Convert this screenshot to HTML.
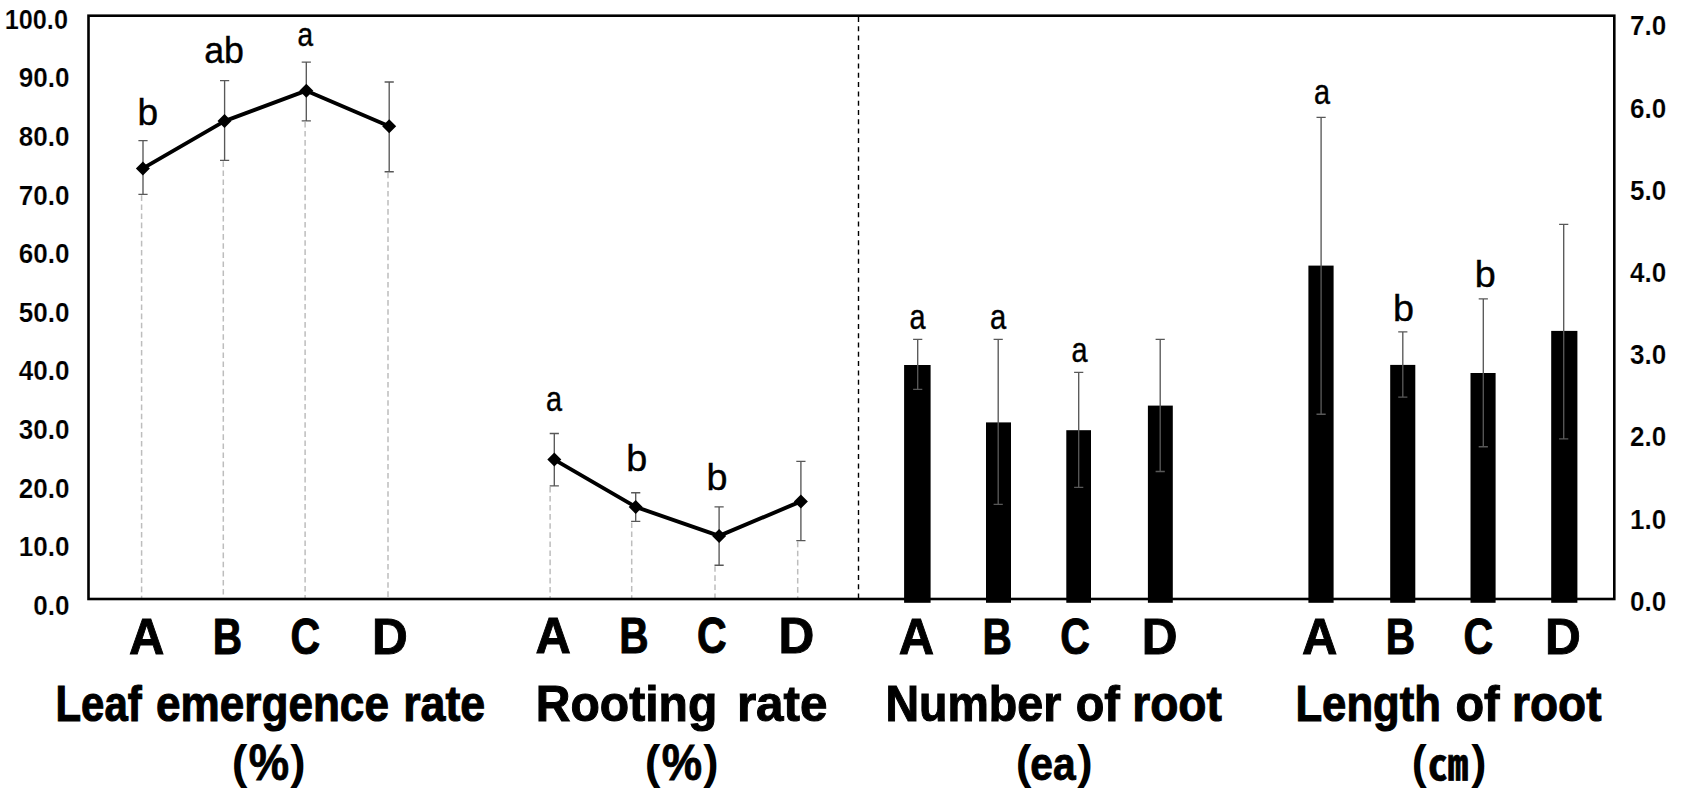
<!DOCTYPE html>
<html lang="en"><head><meta charset="utf-8"><title>Rooting chart</title>
<style>
html,body{margin:0;padding:0;background:#fff;}
body{width:1686px;height:792px;overflow:hidden;}
svg{display:block;}
svg text{font-family:"Liberation Sans", "Noto Sans CJK KR", sans-serif;fill:#000;}
</style></head><body>
<svg width="1686" height="792" viewBox="0 0 1686 792">
<rect width="1686" height="792" fill="#fff"/>
<g>
<line x1="141.6" y1="195.3" x2="141.6" y2="598.0" stroke="#bdbdbd" stroke-width="1.5" stroke-dasharray="5.6 3.5"/>
<line x1="223.3" y1="161.3" x2="223.3" y2="598.0" stroke="#bdbdbd" stroke-width="1.5" stroke-dasharray="5.6 3.5"/>
<line x1="305.1" y1="121.9" x2="305.1" y2="598.0" stroke="#bdbdbd" stroke-width="1.5" stroke-dasharray="5.6 3.5"/>
<line x1="388.0" y1="172.7" x2="388.0" y2="598.0" stroke="#bdbdbd" stroke-width="1.5" stroke-dasharray="5.6 3.5"/>
<line x1="550.1" y1="486.8" x2="550.1" y2="598.0" stroke="#bdbdbd" stroke-width="1.5" stroke-dasharray="5.6 3.5"/>
<line x1="631.7" y1="522.4" x2="631.7" y2="598.0" stroke="#bdbdbd" stroke-width="1.5" stroke-dasharray="5.6 3.5"/>
<line x1="715.0" y1="566.2" x2="715.0" y2="598.0" stroke="#bdbdbd" stroke-width="1.5" stroke-dasharray="5.6 3.5"/>
<line x1="797.7" y1="541.6" x2="797.7" y2="598.0" stroke="#bdbdbd" stroke-width="1.5" stroke-dasharray="5.6 3.5"/>
<line x1="858.5" y1="17" x2="858.5" y2="598.0" stroke="#000" stroke-width="1.4" stroke-dasharray="5 4.3"/>
<rect x="904.1" y="365.0" width="26.5" height="237.8" fill="#000"/>
<rect x="986.0" y="422.4" width="25.0" height="180.4" fill="#000"/>
<rect x="1066.3" y="430.2" width="24.7" height="172.6" fill="#000"/>
<rect x="1147.9" y="405.6" width="24.9" height="197.2" fill="#000"/>
<rect x="1308.4" y="265.6" width="25.2" height="337.2" fill="#000"/>
<rect x="1390.2" y="364.9" width="25.1" height="237.9" fill="#000"/>
<rect x="1470.5" y="373.0" width="25.1" height="229.8" fill="#000"/>
<rect x="1551.2" y="330.9" width="26.2" height="271.9" fill="#000"/>
<rect x="88.5" y="15.7" width="1525.8" height="583.3" fill="none" stroke="#000" stroke-width="2.6"/>
<path d="M143.0 140.6V194.3M138.4 140.6H147.6M138.4 194.3H147.6" stroke="#585858" stroke-width="1.35" fill="none"/>
<path d="M224.6 80.6V160.3M220.0 80.6H229.2M220.0 160.3H229.2" stroke="#585858" stroke-width="1.35" fill="none"/>
<path d="M306.3 62.1V120.9M301.7 62.1H310.90000000000003M301.7 120.9H310.90000000000003" stroke="#585858" stroke-width="1.35" fill="none"/>
<path d="M389.2 82.0V171.7M384.59999999999997 82.0H393.8M384.59999999999997 171.7H393.8" stroke="#585858" stroke-width="1.35" fill="none"/>
<path d="M554.3 433.5V485.8M549.6999999999999 433.5H558.9M549.6999999999999 485.8H558.9" stroke="#585858" stroke-width="1.35" fill="none"/>
<path d="M635.7 492.7V521.4M631.1 492.7H640.3000000000001M631.1 521.4H640.3000000000001" stroke="#585858" stroke-width="1.35" fill="none"/>
<path d="M719.1 506.9V565.2M714.5 506.9H723.7M714.5 565.2H723.7" stroke="#585858" stroke-width="1.35" fill="none"/>
<path d="M800.9 461.3V540.6M796.3 461.3H805.5M796.3 540.6H805.5" stroke="#585858" stroke-width="1.35" fill="none"/>
<path d="M917.7 339.4V389.4M913.1 339.4H922.3000000000001M913.1 389.4H922.3000000000001" stroke="#585858" stroke-width="1.35" fill="none"/>
<path d="M998.2 339.4V504.3M993.6 339.4H1002.8000000000001M993.6 504.3H1002.8000000000001" stroke="#585858" stroke-width="1.35" fill="none"/>
<path d="M1078.7 372.4V487.4M1074.1000000000001 372.4H1083.3M1074.1000000000001 487.4H1083.3" stroke="#585858" stroke-width="1.35" fill="none"/>
<path d="M1160.2 339.4V471.5M1155.6000000000001 339.4H1164.8M1155.6000000000001 471.5H1164.8" stroke="#585858" stroke-width="1.35" fill="none"/>
<path d="M1321.1 117.3V414.2M1316.5 117.3H1325.6999999999998M1316.5 414.2H1325.6999999999998" stroke="#585858" stroke-width="1.35" fill="none"/>
<path d="M1402.8 331.8V397.1M1398.2 331.8H1407.3999999999999M1398.2 397.1H1407.3999999999999" stroke="#585858" stroke-width="1.35" fill="none"/>
<path d="M1483.3 298.9V446.7M1478.7 298.9H1487.8999999999999M1478.7 446.7H1487.8999999999999" stroke="#585858" stroke-width="1.35" fill="none"/>
<path d="M1563.7 224.3V438.9M1559.1000000000001 224.3H1568.3M1559.1000000000001 438.9H1568.3" stroke="#585858" stroke-width="1.35" fill="none"/>
<polyline points="142.9,168.4 224.5,121.1 306.3,90.7 389.2,126.2" fill="none" stroke="#000" stroke-width="3.9" stroke-linejoin="round"/>
<path d="M142.9 161.4L149.9 168.4L142.9 175.4L135.9 168.4Z" fill="#000"/>
<path d="M224.5 114.1L231.5 121.1L224.5 128.1L217.5 121.1Z" fill="#000"/>
<path d="M306.3 83.7L313.3 90.7L306.3 97.7L299.3 90.7Z" fill="#000"/>
<path d="M389.2 119.2L396.2 126.2L389.2 133.2L382.2 126.2Z" fill="#000"/>
<polyline points="554.3,459.6 635.7,506.9 719.1,535.9 800.9,501.4" fill="none" stroke="#000" stroke-width="3.9" stroke-linejoin="round"/>
<path d="M554.3 452.6L561.3 459.6L554.3 466.6L547.3 459.6Z" fill="#000"/>
<path d="M635.7 499.9L642.7 506.9L635.7 513.9L628.7 506.9Z" fill="#000"/>
<path d="M719.1 528.9L726.1 535.9L719.1 542.9L712.1 535.9Z" fill="#000"/>
<path d="M800.9 494.4L807.9 501.4L800.9 508.4L793.9 501.4Z" fill="#000"/>
</g>
<g>
<text transform="translate(4.66 28.93) scale(0.9406 1)" font-size="26.90" font-weight="bold" stroke="#fff" stroke-width="0.18" vector-effect="non-scaling-stroke">100.0</text>
<text transform="translate(18.77 87.47) scale(0.9754 1)" font-size="26.76" font-weight="bold" stroke="#fff" stroke-width="0.18" vector-effect="non-scaling-stroke">90.0</text>
<text transform="translate(18.77 146.06) scale(0.9754 1)" font-size="26.76" font-weight="bold" stroke="#fff" stroke-width="0.18" vector-effect="non-scaling-stroke">80.0</text>
<text transform="translate(18.77 204.65) scale(0.9754 1)" font-size="26.76" font-weight="bold" stroke="#fff" stroke-width="0.18" vector-effect="non-scaling-stroke">70.0</text>
<text transform="translate(18.77 263.24) scale(0.9754 1)" font-size="26.76" font-weight="bold" stroke="#fff" stroke-width="0.18" vector-effect="non-scaling-stroke">60.0</text>
<text transform="translate(18.77 321.83) scale(0.9754 1)" font-size="26.76" font-weight="bold" stroke="#fff" stroke-width="0.18" vector-effect="non-scaling-stroke">50.0</text>
<text transform="translate(18.77 380.42) scale(0.9754 1)" font-size="26.76" font-weight="bold" stroke="#fff" stroke-width="0.18" vector-effect="non-scaling-stroke">40.0</text>
<text transform="translate(18.77 439.01) scale(0.9754 1)" font-size="26.76" font-weight="bold" stroke="#fff" stroke-width="0.18" vector-effect="non-scaling-stroke">30.0</text>
<text transform="translate(18.77 497.60) scale(0.9754 1)" font-size="26.76" font-weight="bold" stroke="#fff" stroke-width="0.18" vector-effect="non-scaling-stroke">20.0</text>
<text transform="translate(18.77 556.19) scale(0.9754 1)" font-size="26.76" font-weight="bold" stroke="#fff" stroke-width="0.18" vector-effect="non-scaling-stroke">10.0</text>
<text transform="translate(33.26 614.78) scale(0.9754 1)" font-size="26.76" font-weight="bold" stroke="#fff" stroke-width="0.18" vector-effect="non-scaling-stroke">0.0</text>
<text transform="translate(1629.96 35.28) scale(0.9754 1)" font-size="26.76" font-weight="bold" stroke="#fff" stroke-width="0.18" vector-effect="non-scaling-stroke">7.0</text>
<text transform="translate(1629.96 117.52) scale(0.9754 1)" font-size="26.76" font-weight="bold" stroke="#fff" stroke-width="0.18" vector-effect="non-scaling-stroke">6.0</text>
<text transform="translate(1629.96 199.76) scale(0.9754 1)" font-size="26.76" font-weight="bold" stroke="#fff" stroke-width="0.18" vector-effect="non-scaling-stroke">5.0</text>
<text transform="translate(1629.96 282.00) scale(0.9754 1)" font-size="26.76" font-weight="bold" stroke="#fff" stroke-width="0.18" vector-effect="non-scaling-stroke">4.0</text>
<text transform="translate(1629.96 364.24) scale(0.9754 1)" font-size="26.76" font-weight="bold" stroke="#fff" stroke-width="0.18" vector-effect="non-scaling-stroke">3.0</text>
<text transform="translate(1629.96 446.48) scale(0.9754 1)" font-size="26.76" font-weight="bold" stroke="#fff" stroke-width="0.18" vector-effect="non-scaling-stroke">2.0</text>
<text transform="translate(1629.96 528.72) scale(0.9754 1)" font-size="26.76" font-weight="bold" stroke="#fff" stroke-width="0.18" vector-effect="non-scaling-stroke">1.0</text>
<text transform="translate(1629.96 610.96) scale(0.9754 1)" font-size="26.76" font-weight="bold" stroke="#fff" stroke-width="0.18" vector-effect="non-scaling-stroke">0.0</text>
<text transform="translate(129.03 653.55) scale(0.9651 1)" font-size="50.72" font-weight="bold" stroke="#000" stroke-width="0.9" vector-effect="non-scaling-stroke">A</text>
<text transform="translate(212.71 653.55) scale(0.8015 1)" font-size="50.72" font-weight="bold" stroke="#000" stroke-width="0.9" vector-effect="non-scaling-stroke">B</text>
<text transform="translate(290.41 653.55) scale(0.8096 1)" font-size="50.72" font-weight="bold" stroke="#000" stroke-width="0.9" vector-effect="non-scaling-stroke">C</text>
<text transform="translate(371.93 653.55) scale(0.9777 1)" font-size="50.72" font-weight="bold" stroke="#000" stroke-width="0.9" vector-effect="non-scaling-stroke">D</text>
<text transform="translate(535.53 653.25) scale(0.9651 1)" font-size="50.72" font-weight="bold" stroke="#000" stroke-width="0.9" vector-effect="non-scaling-stroke">A</text>
<text transform="translate(619.21 653.25) scale(0.8015 1)" font-size="50.72" font-weight="bold" stroke="#000" stroke-width="0.9" vector-effect="non-scaling-stroke">B</text>
<text transform="translate(696.91 653.25) scale(0.8096 1)" font-size="50.72" font-weight="bold" stroke="#000" stroke-width="0.9" vector-effect="non-scaling-stroke">C</text>
<text transform="translate(778.43 653.25) scale(0.9777 1)" font-size="50.72" font-weight="bold" stroke="#000" stroke-width="0.9" vector-effect="non-scaling-stroke">D</text>
<text transform="translate(898.83 653.95) scale(0.9651 1)" font-size="50.72" font-weight="bold" stroke="#000" stroke-width="0.9" vector-effect="non-scaling-stroke">A</text>
<text transform="translate(982.51 653.95) scale(0.8015 1)" font-size="50.72" font-weight="bold" stroke="#000" stroke-width="0.9" vector-effect="non-scaling-stroke">B</text>
<text transform="translate(1060.21 653.95) scale(0.8096 1)" font-size="50.72" font-weight="bold" stroke="#000" stroke-width="0.9" vector-effect="non-scaling-stroke">C</text>
<text transform="translate(1141.73 653.95) scale(0.9777 1)" font-size="50.72" font-weight="bold" stroke="#000" stroke-width="0.9" vector-effect="non-scaling-stroke">D</text>
<text transform="translate(1302.03 653.95) scale(0.9651 1)" font-size="50.72" font-weight="bold" stroke="#000" stroke-width="0.9" vector-effect="non-scaling-stroke">A</text>
<text transform="translate(1385.71 653.95) scale(0.8015 1)" font-size="50.72" font-weight="bold" stroke="#000" stroke-width="0.9" vector-effect="non-scaling-stroke">B</text>
<text transform="translate(1463.41 653.95) scale(0.8096 1)" font-size="50.72" font-weight="bold" stroke="#000" stroke-width="0.9" vector-effect="non-scaling-stroke">C</text>
<text transform="translate(1544.93 653.95) scale(0.9777 1)" font-size="50.72" font-weight="bold" stroke="#000" stroke-width="0.9" vector-effect="non-scaling-stroke">D</text>
<text transform="translate(55.48 720.60) scale(0.8449 1)" font-size="49.60" font-weight="bold" stroke="#000" stroke-width="1.0" vector-effect="non-scaling-stroke">Leaf</text>
<text transform="translate(156.04 720.60) scale(0.8893 1)" font-size="49.60" font-weight="bold" stroke="#000" stroke-width="1.0" vector-effect="non-scaling-stroke">emergence</text>
<text transform="translate(403.19 720.60) scale(0.9017 1)" font-size="49.60" font-weight="bold" stroke="#000" stroke-width="1.0" vector-effect="non-scaling-stroke">rate</text>
<text transform="translate(535.78 720.60) scale(0.9691 1)" font-size="49.60" font-weight="bold" stroke="#000" stroke-width="1.0" vector-effect="non-scaling-stroke">Rooting</text>
<text transform="translate(736.89 720.60) scale(0.9959 1)" font-size="49.60" font-weight="bold" stroke="#000" stroke-width="1.0" vector-effect="non-scaling-stroke">rate</text>
<text transform="translate(885.47 720.60) scale(0.9383 1)" font-size="49.60" font-weight="bold" stroke="#000" stroke-width="1.0" vector-effect="non-scaling-stroke">Number</text>
<text transform="translate(1075.73 720.60) scale(0.9446 1)" font-size="49.60" font-weight="bold" stroke="#000" stroke-width="1.0" vector-effect="non-scaling-stroke">of</text>
<text transform="translate(1132.20 720.60) scale(0.9308 1)" font-size="49.60" font-weight="bold" stroke="#000" stroke-width="1.0" vector-effect="non-scaling-stroke">root</text>
<text transform="translate(1295.46 720.60) scale(0.8801 1)" font-size="49.60" font-weight="bold" stroke="#000" stroke-width="1.0" vector-effect="non-scaling-stroke">Length</text>
<text transform="translate(1455.43 720.60) scale(0.9446 1)" font-size="49.60" font-weight="bold" stroke="#000" stroke-width="1.0" vector-effect="non-scaling-stroke">of</text>
<text transform="translate(1512.01 720.60) scale(0.9286 1)" font-size="49.60" font-weight="bold" stroke="#000" stroke-width="1.0" vector-effect="non-scaling-stroke">root</text>
<text transform="translate(231.64 778.35) scale(1.0156 1)" font-size="46.42" font-weight="bold">(</text>
<text transform="translate(248.77 779.70) scale(0.9084 1)" font-size="49.93" font-weight="bold" stroke="#000" stroke-width="0.8" vector-effect="non-scaling-stroke">%</text>
<text transform="translate(290.37 778.35) scale(0.9926 1)" font-size="46.42" font-weight="bold">)</text>
<text transform="translate(644.64 778.35) scale(1.0156 1)" font-size="46.42" font-weight="bold">(</text>
<text transform="translate(661.77 779.70) scale(0.9084 1)" font-size="49.93" font-weight="bold" stroke="#000" stroke-width="0.8" vector-effect="non-scaling-stroke">%</text>
<text transform="translate(703.37 778.35) scale(0.9926 1)" font-size="46.42" font-weight="bold">)</text>
<text transform="translate(1015.64 778.35) scale(1.0156 1)" font-size="46.42" font-weight="bold">(</text>
<text transform="translate(1030.37 779.84) scale(0.8927 1)" font-size="45.64" font-weight="bold" stroke="#000" stroke-width="0.8" vector-effect="non-scaling-stroke">ea</text>
<text transform="translate(1077.17 778.35) scale(1.0002 1)" font-size="46.42" font-weight="bold">)</text>
<text transform="translate(1411.75 778.35) scale(0.9695 1)" font-size="46.42" font-weight="bold">(</text>
<text transform="translate(1471.37 778.35) scale(0.9849 1)" font-size="46.42" font-weight="bold">)</text>
<text transform="translate(1428.05 779.51) scale(0.9365 1)" font-size="42.71" font-weight="bold" stroke="#000" stroke-width="0.7" vector-effect="non-scaling-stroke">㎝</text>
<text transform="translate(137.49 125.04) scale(1.0216 1)" font-size="36.33" font-weight="normal" stroke="#000" stroke-width="0.4" vector-effect="non-scaling-stroke">b</text>
<text transform="translate(204.19 63.34) scale(0.9931 1)" font-size="36.05" font-weight="normal" stroke="#000" stroke-width="0.4" vector-effect="non-scaling-stroke">ab</text>
<text transform="translate(297.44 45.57) scale(0.8381 1)" font-size="33.45" font-weight="normal" stroke="#000" stroke-width="0.4" vector-effect="non-scaling-stroke">a</text>
<text transform="translate(545.90 410.56) scale(0.8388 1)" font-size="34.36" font-weight="normal" stroke="#000" stroke-width="0.4" vector-effect="non-scaling-stroke">a</text>
<text transform="translate(626.24 470.63) scale(1.0322 1)" font-size="36.60" font-weight="normal" stroke="#000" stroke-width="0.4" vector-effect="non-scaling-stroke">b</text>
<text transform="translate(706.54 490.03) scale(1.0322 1)" font-size="36.60" font-weight="normal" stroke="#000" stroke-width="0.4" vector-effect="non-scaling-stroke">b</text>
<text transform="translate(909.40 329.25) scale(0.8257 1)" font-size="34.91" font-weight="normal" stroke="#000" stroke-width="0.4" vector-effect="non-scaling-stroke">a</text>
<text transform="translate(989.99 329.25) scale(0.8369 1)" font-size="34.91" font-weight="normal" stroke="#000" stroke-width="0.4" vector-effect="non-scaling-stroke">a</text>
<text transform="translate(1071.50 361.86) scale(0.8432 1)" font-size="34.18" font-weight="normal" stroke="#000" stroke-width="0.4" vector-effect="non-scaling-stroke">a</text>
<text transform="translate(1314.10 104.25) scale(0.8257 1)" font-size="34.91" font-weight="normal" stroke="#000" stroke-width="0.4" vector-effect="non-scaling-stroke">a</text>
<text transform="translate(1393.04 321.33) scale(1.0322 1)" font-size="36.60" font-weight="normal" stroke="#000" stroke-width="0.4" vector-effect="non-scaling-stroke">b</text>
<text transform="translate(1474.64 287.34) scale(1.0439 1)" font-size="36.19" font-weight="normal" stroke="#000" stroke-width="0.4" vector-effect="non-scaling-stroke">b</text>
</g>
</svg>
</body></html>
